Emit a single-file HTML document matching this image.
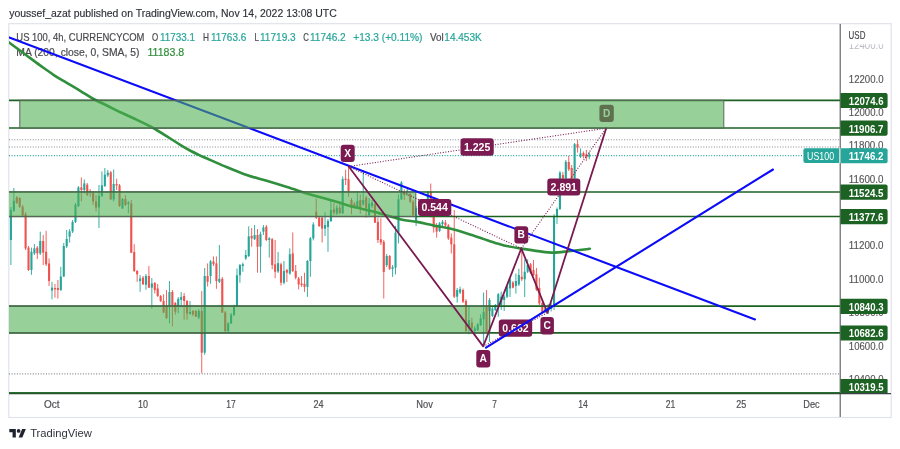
<!DOCTYPE html>
<html lang="en">
<head>
<meta charset="utf-8">
<title>US 100 chart</title>
<style>
html,body{margin:0;padding:0;background:#fff;}
body{width:900px;height:449px;overflow:hidden;font-family:"Liberation Sans",sans-serif;}
svg{display:block;}
</style>
</head>
<body>
<svg width="900" height="449" viewBox="0 0 900 449" font-family="'Liberation Sans', sans-serif">
<defs>
<clipPath id="pane"><rect x="9" y="24" width="831" height="369.5"/></clipPath>
<clipPath id="axis"><rect x="840.3" y="24" width="50" height="369.2"/></clipPath>
<clipPath id="c124"><rect x="841" y="44.2" width="50" height="20"/></clipPath>
</defs>
<rect x="0" y="0" width="900" height="449" fill="#ffffff"/>
<text x="9.2" y="17.4" font-size="10" fill="#30323a" stroke="#30323a" stroke-width="0.15" textLength="327.5" lengthAdjust="spacingAndGlyphs">youssef_azat published on TradingView.com, Nov 14, 2022 13:08 UTC</text>
<rect x="8.8" y="23.7" width="882.4" height="393.8" fill="#ffffff" stroke="#e0e3eb" stroke-width="1.2"/>
<text x="16.3" y="40.5" font-size="10.5" fill="#4b4b4f" stroke="#4b4b4f" stroke-width="0.2" textLength="128.20" lengthAdjust="spacingAndGlyphs">US 100, 4h, CURRENCYCOM</text>
<text x="152" y="40.5" font-size="10.5" fill="#4b4b4f" stroke="#4b4b4f" stroke-width="0.2" textLength="6.20" lengthAdjust="spacingAndGlyphs">O</text>
<text x="160" y="40.5" font-size="10.5" fill="#26a69a" stroke="#26a69a" stroke-width="0.2" textLength="35.00" lengthAdjust="spacingAndGlyphs">11733.1</text>
<text x="203" y="40.5" font-size="10.5" fill="#4b4b4f" stroke="#4b4b4f" stroke-width="0.2" textLength="6.00" lengthAdjust="spacingAndGlyphs">H</text>
<text x="211" y="40.5" font-size="10.5" fill="#26a69a" stroke="#26a69a" stroke-width="0.2" textLength="35.25" lengthAdjust="spacingAndGlyphs">11763.6</text>
<text x="254.5" y="40.5" font-size="10.5" fill="#4b4b4f" stroke="#4b4b4f" stroke-width="0.2" textLength="4.50" lengthAdjust="spacingAndGlyphs">L</text>
<text x="260" y="40.5" font-size="10.5" fill="#26a69a" stroke="#26a69a" stroke-width="0.2" textLength="35.75" lengthAdjust="spacingAndGlyphs">11719.3</text>
<text x="303.25" y="40.5" font-size="10.5" fill="#4b4b4f" stroke="#4b4b4f" stroke-width="0.2" textLength="5.60" lengthAdjust="spacingAndGlyphs">C</text>
<text x="310" y="40.5" font-size="10.5" fill="#26a69a" stroke="#26a69a" stroke-width="0.2" textLength="35.75" lengthAdjust="spacingAndGlyphs">11746.2</text>
<text x="353.25" y="40.5" font-size="10.5" fill="#26a69a" stroke="#26a69a" stroke-width="0.2" textLength="69.25" lengthAdjust="spacingAndGlyphs">+13.3 (+0.11%)</text>
<text x="430" y="40.5" font-size="10.5" fill="#4b4b4f" stroke="#4b4b4f" stroke-width="0.2" textLength="13.75" lengthAdjust="spacingAndGlyphs">Vol</text>
<text x="444.3" y="40.5" font-size="10.5" fill="#26a69a" stroke="#26a69a" stroke-width="0.2" textLength="37.40" lengthAdjust="spacingAndGlyphs">14.453K</text>
<text x="16.3" y="55.8" font-size="10.5" fill="#4b4b4f" stroke="#4b4b4f" stroke-width="0.2" textLength="123.20" lengthAdjust="spacingAndGlyphs">MA (200, close, 0, SMA, 5)</text>
<text x="147.5" y="55.8" font-size="10.5" fill="#2f8f3c" stroke="#2f8f3c" stroke-width="0.2" textLength="36.75" lengthAdjust="spacingAndGlyphs">11183.8</text>
<g clip-path="url(#pane)">
<line x1="9" y1="139.7" x2="840" y2="139.7" stroke="#85888f" stroke-width="1.15" stroke-dasharray="1 1.64"/>
<line x1="9" y1="147.0" x2="840" y2="147.0" stroke="#85888f" stroke-width="1.15" stroke-dasharray="1 1.64"/>
<line x1="9" y1="373.8" x2="840" y2="373.8" stroke="#85888f" stroke-width="1.15" stroke-dasharray="1 1.64"/>
<line x1="9" y1="155.6" x2="803" y2="155.6" stroke="#26a69a" stroke-width="1.1" stroke-dasharray="1 1.64"/>
<g id="candles">
<rect x="10.40" y="207.0" width="1" height="58.0" fill="#26a69a" opacity="0.9"/><rect x="9.85" y="210.0" width="2.1" height="30.0" fill="#26a69a"/>
<rect x="13.34" y="188.0" width="1" height="24.0" fill="#26a69a" opacity="0.9"/><rect x="12.79" y="200.8" width="2.1" height="10.0" fill="#26a69a"/>
<rect x="16.27" y="196.0" width="1" height="8.0" fill="#ef5350" opacity="0.9"/><rect x="15.72" y="197.4" width="2.1" height="5.4" fill="#ef5350"/>
<rect x="19.21" y="197.0" width="1" height="11.0" fill="#ef5350" opacity="0.9"/><rect x="18.66" y="198.0" width="2.1" height="8.8" fill="#ef5350"/>
<rect x="22.14" y="205.0" width="1" height="12.0" fill="#ef5350" opacity="0.9"/><rect x="21.59" y="206.8" width="2.1" height="8.7" fill="#ef5350"/>
<rect x="25.08" y="212.0" width="1" height="38.0" fill="#ef5350" opacity="0.9"/><rect x="24.53" y="214.0" width="2.1" height="34.4" fill="#ef5350"/>
<rect x="28.02" y="246.0" width="1" height="25.0" fill="#ef5350" opacity="0.9"/><rect x="27.47" y="247.6" width="2.1" height="22.4" fill="#ef5350"/>
<rect x="30.95" y="247.6" width="1" height="27.2" fill="#26a69a" opacity="0.9"/><rect x="30.40" y="251.7" width="2.1" height="18.3" fill="#26a69a"/>
<rect x="33.89" y="244.0" width="1" height="11.0" fill="#26a69a" opacity="0.9"/><rect x="33.34" y="248.4" width="2.1" height="5.0" fill="#26a69a"/>
<rect x="36.82" y="246.0" width="1" height="13.0" fill="#ef5350" opacity="0.9"/><rect x="36.27" y="247.6" width="2.1" height="5.8" fill="#ef5350"/>
<rect x="39.76" y="231.7" width="1" height="23.3" fill="#26a69a" opacity="0.9"/><rect x="39.21" y="241.0" width="2.1" height="12.4" fill="#26a69a"/>
<rect x="42.70" y="235.0" width="1" height="30.0" fill="#ef5350" opacity="0.9"/><rect x="42.15" y="241.0" width="2.1" height="11.6" fill="#ef5350"/>
<rect x="45.63" y="230.8" width="1" height="35.2" fill="#ef5350" opacity="0.9"/><rect x="45.08" y="251.7" width="2.1" height="12.6" fill="#ef5350"/>
<rect x="48.57" y="258.4" width="1" height="27.6" fill="#ef5350" opacity="0.9"/><rect x="48.02" y="263.5" width="2.1" height="17.5" fill="#ef5350"/>
<rect x="51.50" y="281.8" width="1" height="17.6" fill="#26a69a" opacity="0.9"/><rect x="50.95" y="287.7" width="2.1" height="2.8" fill="#26a69a"/>
<rect x="54.44" y="284.0" width="1" height="13.7" fill="#ef5350" opacity="0.9"/><rect x="53.89" y="288.0" width="2.1" height="1.4" fill="#ef5350"/>
<rect x="57.38" y="280.0" width="1" height="18.6" fill="#ef5350" opacity="0.9"/><rect x="56.83" y="288.0" width="2.1" height="2.0" fill="#ef5350"/>
<rect x="60.31" y="266.8" width="1" height="24.2" fill="#26a69a" opacity="0.9"/><rect x="59.76" y="276.5" width="2.1" height="13.5" fill="#26a69a"/>
<rect x="63.25" y="243.0" width="1" height="34.0" fill="#26a69a" opacity="0.9"/><rect x="62.70" y="246.0" width="2.1" height="30.5" fill="#26a69a"/>
<rect x="66.18" y="230.0" width="1" height="18.0" fill="#26a69a" opacity="0.9"/><rect x="65.63" y="239.0" width="2.1" height="7.4" fill="#26a69a"/>
<rect x="69.12" y="229.0" width="1" height="13.6" fill="#26a69a" opacity="0.9"/><rect x="68.57" y="231.4" width="2.1" height="5.3" fill="#26a69a"/>
<rect x="72.06" y="220.0" width="1" height="13.0" fill="#26a69a" opacity="0.9"/><rect x="71.51" y="222.0" width="2.1" height="9.4" fill="#26a69a"/>
<rect x="74.99" y="203.0" width="1" height="20.0" fill="#26a69a" opacity="0.9"/><rect x="74.44" y="204.8" width="2.1" height="17.2" fill="#26a69a"/>
<rect x="77.93" y="186.0" width="1" height="21.0" fill="#26a69a" opacity="0.9"/><rect x="77.38" y="187.4" width="2.1" height="18.6" fill="#26a69a"/>
<rect x="80.86" y="177.4" width="1" height="24.0" fill="#ef5350" opacity="0.9"/><rect x="80.31" y="187.4" width="2.1" height="2.6" fill="#ef5350"/>
<rect x="83.80" y="179.4" width="1" height="14.0" fill="#26a69a" opacity="0.9"/><rect x="83.25" y="183.4" width="2.1" height="6.6" fill="#26a69a"/>
<rect x="86.74" y="183.0" width="1" height="13.0" fill="#ef5350" opacity="0.9"/><rect x="86.19" y="184.7" width="2.1" height="10.1" fill="#ef5350"/>
<rect x="89.67" y="189.0" width="1" height="8.0" fill="#ef5350" opacity="0.9"/><rect x="89.12" y="191.0" width="2.1" height="1.5" fill="#ef5350"/>
<rect x="92.61" y="191.0" width="1" height="13.8" fill="#ef5350" opacity="0.9"/><rect x="92.06" y="192.8" width="2.1" height="8.6" fill="#ef5350"/>
<rect x="95.54" y="195.0" width="1" height="16.5" fill="#ef5350" opacity="0.9"/><rect x="94.99" y="201.4" width="2.1" height="6.1" fill="#ef5350"/>
<rect x="98.48" y="185.0" width="1" height="43.0" fill="#26a69a" opacity="0.9"/><rect x="97.93" y="196.0" width="2.1" height="11.5" fill="#26a69a"/>
<rect x="101.42" y="171.4" width="1" height="25.6" fill="#26a69a" opacity="0.9"/><rect x="100.87" y="185.4" width="2.1" height="10.6" fill="#26a69a"/>
<rect x="104.35" y="168.0" width="1" height="19.0" fill="#26a69a" opacity="0.9"/><rect x="103.80" y="174.7" width="2.1" height="11.3" fill="#26a69a"/>
<rect x="107.29" y="170.0" width="1" height="7.0" fill="#26a69a" opacity="0.9"/><rect x="106.74" y="172.7" width="2.1" height="2.7" fill="#26a69a"/>
<rect x="110.22" y="171.0" width="1" height="29.0" fill="#ef5350" opacity="0.9"/><rect x="109.67" y="172.3" width="2.1" height="27.1" fill="#ef5350"/>
<rect x="113.16" y="169.4" width="1" height="32.0" fill="#26a69a" opacity="0.9"/><rect x="112.61" y="184.0" width="2.1" height="15.4" fill="#26a69a"/>
<rect x="116.10" y="178.7" width="1" height="11.3" fill="#ef5350" opacity="0.9"/><rect x="115.55" y="184.0" width="2.1" height="1.4" fill="#ef5350"/>
<rect x="119.03" y="184.0" width="1" height="23.0" fill="#ef5350" opacity="0.9"/><rect x="118.48" y="185.4" width="2.1" height="20.6" fill="#ef5350"/>
<rect x="121.97" y="198.0" width="1" height="11.0" fill="#26a69a" opacity="0.9"/><rect x="121.42" y="199.2" width="2.1" height="9.2" fill="#26a69a"/>
<rect x="124.90" y="195.0" width="1" height="11.0" fill="#ef5350" opacity="0.9"/><rect x="124.35" y="199.0" width="2.1" height="6.0" fill="#ef5350"/>
<rect x="127.84" y="201.0" width="1" height="12.4" fill="#26a69a" opacity="0.9"/><rect x="127.29" y="202.5" width="2.1" height="1.5" fill="#26a69a"/>
<rect x="130.78" y="200.0" width="1" height="53.0" fill="#ef5350" opacity="0.9"/><rect x="130.23" y="203.4" width="2.1" height="49.3" fill="#ef5350"/>
<rect x="133.71" y="244.2" width="1" height="27.8" fill="#ef5350" opacity="0.9"/><rect x="133.16" y="252.0" width="2.1" height="19.0" fill="#ef5350"/>
<rect x="136.65" y="270.0" width="1" height="11.8" fill="#ef5350" opacity="0.9"/><rect x="136.10" y="271.0" width="2.1" height="3.3" fill="#ef5350"/>
<rect x="139.58" y="275.0" width="1" height="16.8" fill="#26a69a" opacity="0.9"/><rect x="139.03" y="278.5" width="2.1" height="2.5" fill="#26a69a"/>
<rect x="142.52" y="276.0" width="1" height="9.0" fill="#ef5350" opacity="0.9"/><rect x="141.97" y="277.6" width="2.1" height="6.7" fill="#ef5350"/>
<rect x="145.46" y="274.0" width="1" height="15.8" fill="#26a69a" opacity="0.9"/><rect x="144.91" y="276.0" width="2.1" height="8.8" fill="#26a69a"/>
<rect x="148.39" y="266.0" width="1" height="22.0" fill="#ef5350" opacity="0.9"/><rect x="147.84" y="276.0" width="2.1" height="11.7" fill="#ef5350"/>
<rect x="151.33" y="278.0" width="1" height="30.6" fill="#26a69a" opacity="0.9"/><rect x="150.78" y="283.5" width="2.1" height="4.2" fill="#26a69a"/>
<rect x="154.26" y="282.0" width="1" height="11.5" fill="#ef5350" opacity="0.9"/><rect x="153.71" y="283.0" width="2.1" height="7.0" fill="#ef5350"/>
<rect x="157.20" y="284.0" width="1" height="13.0" fill="#ef5350" opacity="0.9"/><rect x="156.65" y="288.5" width="2.1" height="7.5" fill="#ef5350"/>
<rect x="160.14" y="295.0" width="1" height="7.0" fill="#ef5350" opacity="0.9"/><rect x="159.59" y="296.0" width="2.1" height="5.0" fill="#ef5350"/>
<rect x="163.07" y="294.3" width="1" height="18.7" fill="#ef5350" opacity="0.9"/><rect x="162.52" y="301.0" width="2.1" height="11.5" fill="#ef5350"/>
<rect x="166.01" y="290.0" width="1" height="29.0" fill="#ef5350" opacity="0.9"/><rect x="165.46" y="306.0" width="2.1" height="12.0" fill="#ef5350"/>
<rect x="168.94" y="281.0" width="1" height="42.4" fill="#26a69a" opacity="0.9"/><rect x="168.39" y="292.0" width="2.1" height="13.6" fill="#26a69a"/>
<rect x="171.88" y="290.0" width="1" height="36.4" fill="#ef5350" opacity="0.9"/><rect x="171.33" y="292.0" width="2.1" height="13.0" fill="#ef5350"/>
<rect x="174.82" y="302.0" width="1" height="12.7" fill="#ef5350" opacity="0.9"/><rect x="174.27" y="303.0" width="2.1" height="8.7" fill="#ef5350"/>
<rect x="177.75" y="297.0" width="1" height="16.4" fill="#26a69a" opacity="0.9"/><rect x="177.20" y="298.9" width="2.1" height="6.7" fill="#26a69a"/>
<rect x="180.69" y="292.0" width="1" height="13.6" fill="#26a69a" opacity="0.9"/><rect x="180.14" y="296.9" width="2.1" height="3.0" fill="#26a69a"/>
<rect x="183.62" y="293.0" width="1" height="26.7" fill="#ef5350" opacity="0.9"/><rect x="183.07" y="296.0" width="2.1" height="5.0" fill="#ef5350"/>
<rect x="186.56" y="300.0" width="1" height="19.7" fill="#ef5350" opacity="0.9"/><rect x="186.01" y="301.0" width="2.1" height="12.6" fill="#ef5350"/>
<rect x="189.50" y="301.0" width="1" height="13.7" fill="#26a69a" opacity="0.9"/><rect x="188.95" y="312.0" width="2.1" height="1.7" fill="#26a69a"/>
<rect x="192.43" y="310.0" width="1" height="6.0" fill="#ef5350" opacity="0.9"/><rect x="191.88" y="311.0" width="2.1" height="3.4" fill="#ef5350"/>
<rect x="195.37" y="310.0" width="1" height="7.0" fill="#ef5350" opacity="0.9"/><rect x="194.82" y="311.0" width="2.1" height="5.7" fill="#ef5350"/>
<rect x="198.30" y="309.0" width="1" height="10.2" fill="#26a69a" opacity="0.9"/><rect x="197.75" y="311.0" width="2.1" height="6.5" fill="#26a69a"/>
<rect x="201.24" y="291.0" width="1" height="82.2" fill="#ef5350" opacity="0.9"/><rect x="200.69" y="311.0" width="2.1" height="41.7" fill="#ef5350"/>
<rect x="204.18" y="268.0" width="1" height="86.8" fill="#26a69a" opacity="0.9"/><rect x="203.63" y="276.0" width="2.1" height="76.7" fill="#26a69a"/>
<rect x="207.11" y="263.4" width="1" height="23.1" fill="#ef5350" opacity="0.9"/><rect x="206.56" y="276.0" width="2.1" height="5.8" fill="#ef5350"/>
<rect x="210.05" y="260.0" width="1" height="23.8" fill="#26a69a" opacity="0.9"/><rect x="209.50" y="261.4" width="2.1" height="14.6" fill="#26a69a"/>
<rect x="212.98" y="256.4" width="1" height="9.6" fill="#ef5350" opacity="0.9"/><rect x="212.43" y="261.4" width="2.1" height="2.8" fill="#ef5350"/>
<rect x="215.92" y="256.4" width="1" height="32.4" fill="#ef5350" opacity="0.9"/><rect x="215.37" y="263.4" width="2.1" height="17.6" fill="#ef5350"/>
<rect x="218.86" y="245.0" width="1" height="38.0" fill="#26a69a" opacity="0.9"/><rect x="218.31" y="278.8" width="2.1" height="3.0" fill="#26a69a"/>
<rect x="221.79" y="277.0" width="1" height="36.0" fill="#ef5350" opacity="0.9"/><rect x="221.24" y="278.8" width="2.1" height="33.7" fill="#ef5350"/>
<rect x="224.73" y="311.0" width="1" height="21.0" fill="#ef5350" opacity="0.9"/><rect x="224.18" y="312.5" width="2.1" height="18.5" fill="#ef5350"/>
<rect x="227.66" y="322.0" width="1" height="10.0" fill="#26a69a" opacity="0.9"/><rect x="227.11" y="323.4" width="2.1" height="7.6" fill="#26a69a"/>
<rect x="230.60" y="313.0" width="1" height="11.0" fill="#26a69a" opacity="0.9"/><rect x="230.05" y="314.7" width="2.1" height="8.7" fill="#26a69a"/>
<rect x="233.54" y="304.7" width="1" height="11.3" fill="#26a69a" opacity="0.9"/><rect x="232.99" y="306.4" width="2.1" height="8.6" fill="#26a69a"/>
<rect x="236.47" y="268.5" width="1" height="38.5" fill="#26a69a" opacity="0.9"/><rect x="235.92" y="275.2" width="2.1" height="31.2" fill="#26a69a"/>
<rect x="239.41" y="264.0" width="1" height="18.7" fill="#26a69a" opacity="0.9"/><rect x="238.86" y="265.0" width="2.1" height="10.2" fill="#26a69a"/>
<rect x="242.34" y="262.6" width="1" height="9.2" fill="#26a69a" opacity="0.9"/><rect x="241.79" y="264.3" width="2.1" height="1.7" fill="#26a69a"/>
<rect x="245.28" y="250.0" width="1" height="10.0" fill="#26a69a" opacity="0.9"/><rect x="244.73" y="255.0" width="2.1" height="3.4" fill="#26a69a"/>
<rect x="248.22" y="226.3" width="1" height="30.7" fill="#26a69a" opacity="0.9"/><rect x="247.67" y="236.4" width="2.1" height="19.6" fill="#26a69a"/>
<rect x="251.15" y="228.0" width="1" height="18.7" fill="#ef5350" opacity="0.9"/><rect x="250.60" y="236.0" width="2.1" height="2.4" fill="#ef5350"/>
<rect x="254.09" y="225.0" width="1" height="15.0" fill="#26a69a" opacity="0.9"/><rect x="253.54" y="235.0" width="2.1" height="4.2" fill="#26a69a"/>
<rect x="257.02" y="229.0" width="1" height="43.7" fill="#ef5350" opacity="0.9"/><rect x="256.47" y="235.0" width="2.1" height="11.7" fill="#ef5350"/>
<rect x="259.96" y="231.7" width="1" height="41.0" fill="#26a69a" opacity="0.9"/><rect x="259.41" y="234.2" width="2.1" height="12.5" fill="#26a69a"/>
<rect x="262.90" y="225.0" width="1" height="10.0" fill="#26a69a" opacity="0.9"/><rect x="262.35" y="227.5" width="2.1" height="4.2" fill="#26a69a"/>
<rect x="265.83" y="225.0" width="1" height="16.0" fill="#ef5350" opacity="0.9"/><rect x="265.28" y="226.7" width="2.1" height="13.3" fill="#ef5350"/>
<rect x="268.77" y="237.0" width="1" height="20.6" fill="#26a69a" opacity="0.9"/><rect x="268.22" y="238.4" width="2.1" height="1.6" fill="#26a69a"/>
<rect x="271.70" y="238.0" width="1" height="31.3" fill="#ef5350" opacity="0.9"/><rect x="271.15" y="239.2" width="2.1" height="25.9" fill="#ef5350"/>
<rect x="274.64" y="240.0" width="1" height="38.2" fill="#ef5350" opacity="0.9"/><rect x="274.09" y="264.3" width="2.1" height="7.5" fill="#ef5350"/>
<rect x="277.58" y="252.0" width="1" height="21.0" fill="#26a69a" opacity="0.9"/><rect x="277.03" y="263.1" width="2.1" height="8.4" fill="#26a69a"/>
<rect x="280.51" y="262.6" width="1" height="22.9" fill="#ef5350" opacity="0.9"/><rect x="279.96" y="264.3" width="2.1" height="18.4" fill="#ef5350"/>
<rect x="283.45" y="261.0" width="1" height="23.4" fill="#26a69a" opacity="0.9"/><rect x="282.90" y="271.0" width="2.1" height="11.7" fill="#26a69a"/>
<rect x="286.38" y="268.8" width="1" height="13.1" fill="#ef5350" opacity="0.9"/><rect x="285.83" y="270.0" width="2.1" height="2.7" fill="#ef5350"/>
<rect x="289.32" y="248.4" width="1" height="26.4" fill="#26a69a" opacity="0.9"/><rect x="288.77" y="254.3" width="2.1" height="19.2" fill="#26a69a"/>
<rect x="292.26" y="232.5" width="1" height="39.5" fill="#ef5350" opacity="0.9"/><rect x="291.71" y="253.4" width="2.1" height="17.6" fill="#ef5350"/>
<rect x="295.19" y="265.0" width="1" height="14.3" fill="#ef5350" opacity="0.9"/><rect x="294.64" y="271.0" width="2.1" height="6.7" fill="#ef5350"/>
<rect x="298.13" y="277.0" width="1" height="12.4" fill="#ef5350" opacity="0.9"/><rect x="297.58" y="278.5" width="2.1" height="5.9" fill="#ef5350"/>
<rect x="301.06" y="276.0" width="1" height="10.9" fill="#ef5350" opacity="0.9"/><rect x="300.51" y="283.5" width="2.1" height="1.5" fill="#ef5350"/>
<rect x="304.00" y="272.7" width="1" height="19.2" fill="#ef5350" opacity="0.9"/><rect x="303.45" y="283.9" width="2.1" height="3.0" fill="#ef5350"/>
<rect x="306.94" y="260.0" width="1" height="36.9" fill="#26a69a" opacity="0.9"/><rect x="306.39" y="261.0" width="2.1" height="25.9" fill="#26a69a"/>
<rect x="309.87" y="237.0" width="1" height="39.8" fill="#26a69a" opacity="0.9"/><rect x="309.32" y="238.4" width="2.1" height="22.6" fill="#26a69a"/>
<rect x="312.81" y="222.2" width="1" height="18.2" fill="#26a69a" opacity="0.9"/><rect x="312.26" y="224.4" width="2.1" height="14.0" fill="#26a69a"/>
<rect x="315.74" y="198.5" width="1" height="20.5" fill="#ef5350" opacity="0.9"/><rect x="315.19" y="211.8" width="2.1" height="5.9" fill="#ef5350"/>
<rect x="318.68" y="216.0" width="1" height="11.0" fill="#ef5350" opacity="0.9"/><rect x="318.13" y="217.7" width="2.1" height="8.3" fill="#ef5350"/>
<rect x="321.62" y="216.0" width="1" height="26.5" fill="#ef5350" opacity="0.9"/><rect x="321.07" y="217.7" width="2.1" height="10.9" fill="#ef5350"/>
<rect x="324.55" y="212.0" width="1" height="24.0" fill="#26a69a" opacity="0.9"/><rect x="324.00" y="225.0" width="2.1" height="3.6" fill="#26a69a"/>
<rect x="327.49" y="219.0" width="1" height="32.8" fill="#26a69a" opacity="0.9"/><rect x="326.94" y="221.0" width="2.1" height="6.0" fill="#26a69a"/>
<rect x="330.42" y="201.0" width="1" height="21.0" fill="#26a69a" opacity="0.9"/><rect x="329.87" y="210.0" width="2.1" height="11.0" fill="#26a69a"/>
<rect x="333.36" y="203.0" width="1" height="12.2" fill="#ef5350" opacity="0.9"/><rect x="332.81" y="209.3" width="2.1" height="3.4" fill="#ef5350"/>
<rect x="336.30" y="204.8" width="1" height="10.2" fill="#26a69a" opacity="0.9"/><rect x="335.75" y="207.7" width="2.1" height="5.8" fill="#26a69a"/>
<rect x="339.23" y="201.8" width="1" height="12.2" fill="#ef5350" opacity="0.9"/><rect x="338.68" y="207.7" width="2.1" height="5.5" fill="#ef5350"/>
<rect x="342.17" y="176.4" width="1" height="37.6" fill="#26a69a" opacity="0.9"/><rect x="341.62" y="179.2" width="2.1" height="34.0" fill="#26a69a"/>
<rect x="345.10" y="169.7" width="1" height="15.3" fill="#ef5350" opacity="0.9"/><rect x="344.55" y="178.7" width="2.1" height="1.3" fill="#ef5350"/>
<rect x="348.04" y="166.7" width="1" height="30.1" fill="#ef5350" opacity="0.9"/><rect x="347.49" y="179.2" width="2.1" height="11.8" fill="#ef5350"/>
<rect x="350.98" y="198.0" width="1" height="16.3" fill="#ef5350" opacity="0.9"/><rect x="350.43" y="200.0" width="2.1" height="7.7" fill="#ef5350"/>
<rect x="353.91" y="202.0" width="1" height="6.0" fill="#ef5350" opacity="0.9"/><rect x="353.36" y="203.8" width="2.1" height="3.0" fill="#ef5350"/>
<rect x="356.85" y="192.6" width="1" height="15.4" fill="#26a69a" opacity="0.9"/><rect x="356.30" y="201.0" width="2.1" height="5.8" fill="#26a69a"/>
<rect x="359.78" y="194.3" width="1" height="19.5" fill="#ef5350" opacity="0.9"/><rect x="359.23" y="200.0" width="2.1" height="7.7" fill="#ef5350"/>
<rect x="362.72" y="170.0" width="1" height="36.0" fill="#26a69a" opacity="0.9"/><rect x="362.17" y="200.0" width="2.1" height="4.3" fill="#26a69a"/>
<rect x="365.66" y="196.0" width="1" height="21.7" fill="#ef5350" opacity="0.9"/><rect x="365.11" y="197.6" width="2.1" height="10.9" fill="#ef5350"/>
<rect x="368.59" y="198.0" width="1" height="18.0" fill="#26a69a" opacity="0.9"/><rect x="368.04" y="203.5" width="2.1" height="11.7" fill="#26a69a"/>
<rect x="371.53" y="200.0" width="1" height="8.0" fill="#26a69a" opacity="0.9"/><rect x="370.98" y="202.6" width="2.1" height="3.4" fill="#26a69a"/>
<rect x="374.46" y="203.0" width="1" height="20.0" fill="#ef5350" opacity="0.9"/><rect x="373.91" y="204.3" width="2.1" height="18.4" fill="#ef5350"/>
<rect x="377.40" y="217.7" width="1" height="25.3" fill="#ef5350" opacity="0.9"/><rect x="376.85" y="221.9" width="2.1" height="18.1" fill="#ef5350"/>
<rect x="380.34" y="218.3" width="1" height="26.7" fill="#ef5350" opacity="0.9"/><rect x="379.79" y="239.2" width="2.1" height="3.4" fill="#ef5350"/>
<rect x="383.27" y="240.0" width="1" height="58.5" fill="#ef5350" opacity="0.9"/><rect x="382.72" y="241.8" width="2.1" height="30.1" fill="#ef5350"/>
<rect x="386.21" y="254.0" width="1" height="13.0" fill="#26a69a" opacity="0.9"/><rect x="385.66" y="256.0" width="2.1" height="9.2" fill="#26a69a"/>
<rect x="389.14" y="255.0" width="1" height="15.0" fill="#ef5350" opacity="0.9"/><rect x="388.59" y="256.0" width="2.1" height="12.8" fill="#ef5350"/>
<rect x="392.08" y="265.0" width="1" height="11.9" fill="#26a69a" opacity="0.9"/><rect x="391.53" y="267.2" width="2.1" height="1.6" fill="#26a69a"/>
<rect x="395.02" y="225.9" width="1" height="48.5" fill="#26a69a" opacity="0.9"/><rect x="394.47" y="232.6" width="2.1" height="35.1" fill="#26a69a"/>
<rect x="397.95" y="194.3" width="1" height="49.1" fill="#26a69a" opacity="0.9"/><rect x="397.40" y="199.3" width="2.1" height="33.3" fill="#26a69a"/>
<rect x="400.89" y="181.0" width="1" height="19.0" fill="#26a69a" opacity="0.9"/><rect x="400.34" y="182.5" width="2.1" height="16.8" fill="#26a69a"/>
<rect x="403.82" y="189.3" width="1" height="10.7" fill="#ef5350" opacity="0.9"/><rect x="403.27" y="192.6" width="2.1" height="2.4" fill="#ef5350"/>
<rect x="406.76" y="189.0" width="1" height="7.0" fill="#26a69a" opacity="0.9"/><rect x="406.21" y="190.6" width="2.1" height="2.4" fill="#26a69a"/>
<rect x="409.70" y="193.0" width="1" height="10.0" fill="#ef5350" opacity="0.9"/><rect x="409.15" y="194.3" width="2.1" height="7.5" fill="#ef5350"/>
<rect x="412.63" y="200.0" width="1" height="16.0" fill="#ef5350" opacity="0.9"/><rect x="412.08" y="201.8" width="2.1" height="13.2" fill="#ef5350"/>
<rect x="415.57" y="206.0" width="1" height="20.0" fill="#26a69a" opacity="0.9"/><rect x="415.02" y="208.0" width="2.1" height="14.0" fill="#26a69a"/>
<rect x="418.50" y="202.0" width="1" height="9.0" fill="#ef5350" opacity="0.9"/><rect x="417.95" y="204.0" width="2.1" height="5.0" fill="#ef5350"/>
<rect x="421.44" y="201.0" width="1" height="9.0" fill="#26a69a" opacity="0.9"/><rect x="420.89" y="203.0" width="2.1" height="5.0" fill="#26a69a"/>
<rect x="424.38" y="201.0" width="1" height="8.0" fill="#ef5350" opacity="0.9"/><rect x="423.83" y="203.0" width="2.1" height="4.0" fill="#ef5350"/>
<rect x="427.31" y="191.0" width="1" height="13.0" fill="#26a69a" opacity="0.9"/><rect x="426.76" y="192.4" width="2.1" height="10.6" fill="#26a69a"/>
<rect x="430.25" y="183.5" width="1" height="34.0" fill="#ef5350" opacity="0.9"/><rect x="429.70" y="192.4" width="2.1" height="23.6" fill="#ef5350"/>
<rect x="433.18" y="215.0" width="1" height="17.6" fill="#ef5350" opacity="0.9"/><rect x="432.63" y="216.7" width="2.1" height="10.8" fill="#ef5350"/>
<rect x="436.12" y="223.0" width="1" height="14.6" fill="#ef5350" opacity="0.9"/><rect x="435.57" y="226.7" width="2.1" height="5.0" fill="#ef5350"/>
<rect x="439.06" y="222.0" width="1" height="10.0" fill="#26a69a" opacity="0.9"/><rect x="438.51" y="223.4" width="2.1" height="7.5" fill="#26a69a"/>
<rect x="441.99" y="220.0" width="1" height="6.0" fill="#26a69a" opacity="0.9"/><rect x="441.44" y="221.7" width="2.1" height="2.5" fill="#26a69a"/>
<rect x="444.93" y="220.0" width="1" height="8.4" fill="#ef5350" opacity="0.9"/><rect x="444.38" y="222.5" width="2.1" height="2.9" fill="#ef5350"/>
<rect x="447.86" y="224.0" width="1" height="16.0" fill="#ef5350" opacity="0.9"/><rect x="447.31" y="225.4" width="2.1" height="13.0" fill="#ef5350"/>
<rect x="450.80" y="233.4" width="1" height="20.1" fill="#ef5350" opacity="0.9"/><rect x="450.25" y="237.6" width="2.1" height="6.7" fill="#ef5350"/>
<rect x="453.74" y="210.0" width="1" height="88.0" fill="#ef5350" opacity="0.9"/><rect x="453.19" y="244.3" width="2.1" height="52.4" fill="#ef5350"/>
<rect x="456.67" y="288.0" width="1" height="14.6" fill="#26a69a" opacity="0.9"/><rect x="456.12" y="290.0" width="2.1" height="6.7" fill="#26a69a"/>
<rect x="459.61" y="286.7" width="1" height="7.3" fill="#26a69a" opacity="0.9"/><rect x="459.06" y="289.2" width="2.1" height="3.3" fill="#26a69a"/>
<rect x="462.54" y="288.5" width="1" height="14.5" fill="#ef5350" opacity="0.9"/><rect x="461.99" y="290.0" width="2.1" height="11.7" fill="#ef5350"/>
<rect x="465.48" y="299.2" width="1" height="32.8" fill="#ef5350" opacity="0.9"/><rect x="464.93" y="300.9" width="2.1" height="30.1" fill="#ef5350"/>
<rect x="468.42" y="306.8" width="1" height="27.5" fill="#26a69a" opacity="0.9"/><rect x="467.87" y="320.0" width="2.1" height="8.0" fill="#26a69a"/>
<rect x="471.35" y="317.6" width="1" height="12.4" fill="#ef5350" opacity="0.9"/><rect x="470.80" y="322.6" width="2.1" height="5.9" fill="#ef5350"/>
<rect x="474.29" y="326.0" width="1" height="10.0" fill="#26a69a" opacity="0.9"/><rect x="473.74" y="328.5" width="2.1" height="2.5" fill="#26a69a"/>
<rect x="477.22" y="323.0" width="1" height="8.0" fill="#26a69a" opacity="0.9"/><rect x="476.67" y="324.3" width="2.1" height="5.9" fill="#26a69a"/>
<rect x="480.16" y="314.3" width="1" height="11.7" fill="#26a69a" opacity="0.9"/><rect x="479.61" y="318.5" width="2.1" height="6.7" fill="#26a69a"/>
<rect x="483.10" y="292.5" width="1" height="52.7" fill="#26a69a" opacity="0.9"/><rect x="482.55" y="311.8" width="2.1" height="7.5" fill="#26a69a"/>
<rect x="486.03" y="290.0" width="1" height="43.0" fill="#ef5350" opacity="0.9"/><rect x="485.48" y="306.0" width="2.1" height="25.8" fill="#ef5350"/>
<rect x="488.97" y="298.0" width="1" height="43.9" fill="#26a69a" opacity="0.9"/><rect x="488.42" y="300.0" width="2.1" height="11.0" fill="#26a69a"/>
<rect x="491.90" y="307.0" width="1" height="10.0" fill="#26a69a" opacity="0.9"/><rect x="491.35" y="308.4" width="2.1" height="7.6" fill="#26a69a"/>
<rect x="494.84" y="304.0" width="1" height="7.0" fill="#26a69a" opacity="0.9"/><rect x="494.29" y="305.0" width="2.1" height="5.0" fill="#26a69a"/>
<rect x="497.78" y="293.0" width="1" height="23.8" fill="#26a69a" opacity="0.9"/><rect x="497.23" y="294.2" width="2.1" height="12.6" fill="#26a69a"/>
<rect x="500.71" y="291.7" width="1" height="18.3" fill="#26a69a" opacity="0.9"/><rect x="500.16" y="296.7" width="2.1" height="8.3" fill="#26a69a"/>
<rect x="503.65" y="295.0" width="1" height="16.0" fill="#26a69a" opacity="0.9"/><rect x="503.10" y="296.7" width="2.1" height="3.3" fill="#26a69a"/>
<rect x="506.58" y="285.0" width="1" height="13.0" fill="#26a69a" opacity="0.9"/><rect x="506.03" y="286.7" width="2.1" height="10.0" fill="#26a69a"/>
<rect x="509.52" y="278.0" width="1" height="19.0" fill="#26a69a" opacity="0.9"/><rect x="508.97" y="279.3" width="2.1" height="9.1" fill="#26a69a"/>
<rect x="512.46" y="281.0" width="1" height="7.4" fill="#ef5350" opacity="0.9"/><rect x="511.91" y="282.5" width="2.1" height="5.2" fill="#ef5350"/>
<rect x="515.39" y="273.5" width="1" height="20.1" fill="#26a69a" opacity="0.9"/><rect x="514.84" y="281.0" width="2.1" height="5.0" fill="#26a69a"/>
<rect x="518.33" y="268.8" width="1" height="17.2" fill="#26a69a" opacity="0.9"/><rect x="517.78" y="275.0" width="2.1" height="9.4" fill="#26a69a"/>
<rect x="521.26" y="250.0" width="1" height="31.0" fill="#ef5350" opacity="0.9"/><rect x="520.71" y="276.8" width="2.1" height="2.5" fill="#ef5350"/>
<rect x="524.20" y="259.3" width="1" height="37.7" fill="#26a69a" opacity="0.9"/><rect x="523.65" y="271.8" width="2.1" height="7.5" fill="#26a69a"/>
<rect x="527.14" y="259.3" width="1" height="13.7" fill="#26a69a" opacity="0.9"/><rect x="526.59" y="265.0" width="2.1" height="6.8" fill="#26a69a"/>
<rect x="530.07" y="263.0" width="1" height="11.0" fill="#ef5350" opacity="0.9"/><rect x="529.52" y="264.3" width="2.1" height="8.4" fill="#ef5350"/>
<rect x="533.01" y="260.0" width="1" height="16.0" fill="#ef5350" opacity="0.9"/><rect x="532.46" y="270.0" width="2.1" height="5.0" fill="#ef5350"/>
<rect x="535.94" y="268.0" width="1" height="23.0" fill="#ef5350" opacity="0.9"/><rect x="535.39" y="274.3" width="2.1" height="15.1" fill="#ef5350"/>
<rect x="538.88" y="277.7" width="1" height="27.3" fill="#ef5350" opacity="0.9"/><rect x="538.33" y="288.0" width="2.1" height="15.4" fill="#ef5350"/>
<rect x="541.82" y="301.0" width="1" height="12.5" fill="#ef5350" opacity="0.9"/><rect x="541.27" y="303.0" width="2.1" height="9.6" fill="#ef5350"/>
<rect x="544.75" y="306.5" width="1" height="6.5" fill="#26a69a" opacity="0.9"/><rect x="544.20" y="308.4" width="2.1" height="2.6" fill="#26a69a"/>
<rect x="547.69" y="304.0" width="1" height="10.0" fill="#26a69a" opacity="0.9"/><rect x="547.14" y="306.0" width="2.1" height="4.0" fill="#26a69a"/>
<rect x="550.62" y="303.0" width="1" height="8.5" fill="#26a69a" opacity="0.9"/><rect x="550.07" y="305.0" width="2.1" height="4.0" fill="#26a69a"/>
<rect x="553.56" y="214.0" width="1" height="96.0" fill="#26a69a" opacity="0.9"/><rect x="553.01" y="216.0" width="2.1" height="89.0" fill="#26a69a"/>
<rect x="556.50" y="207.5" width="1" height="16.5" fill="#26a69a" opacity="0.9"/><rect x="555.95" y="209.0" width="2.1" height="7.0" fill="#26a69a"/>
<rect x="559.43" y="171.0" width="1" height="39.0" fill="#26a69a" opacity="0.9"/><rect x="558.88" y="172.7" width="2.1" height="36.3" fill="#26a69a"/>
<rect x="562.37" y="172.0" width="1" height="8.0" fill="#ef5350" opacity="0.9"/><rect x="561.82" y="175.0" width="2.1" height="3.5" fill="#ef5350"/>
<rect x="565.30" y="160.0" width="1" height="19.5" fill="#26a69a" opacity="0.9"/><rect x="564.75" y="161.8" width="2.1" height="16.7" fill="#26a69a"/>
<rect x="568.24" y="156.0" width="1" height="15.0" fill="#ef5350" opacity="0.9"/><rect x="567.69" y="162.0" width="2.1" height="7.3" fill="#ef5350"/>
<rect x="571.18" y="165.0" width="1" height="14.5" fill="#ef5350" opacity="0.9"/><rect x="570.63" y="168.0" width="2.1" height="10.5" fill="#ef5350"/>
<rect x="574.11" y="143.0" width="1" height="36.5" fill="#26a69a" opacity="0.9"/><rect x="573.56" y="144.2" width="2.1" height="34.3" fill="#26a69a"/>
<rect x="577.05" y="139.7" width="1" height="12.9" fill="#ef5350" opacity="0.9"/><rect x="576.50" y="144.2" width="2.1" height="3.4" fill="#ef5350"/>
<rect x="579.98" y="148.4" width="1" height="9.6" fill="#26a69a" opacity="0.9"/><rect x="579.43" y="153.4" width="2.1" height="3.4" fill="#26a69a"/>
<rect x="582.92" y="151.4" width="1" height="7.0" fill="#ef5350" opacity="0.9"/><rect x="582.37" y="153.0" width="2.1" height="3.0" fill="#ef5350"/>
<rect x="585.86" y="150.0" width="1" height="11.0" fill="#ef5350" opacity="0.9"/><rect x="585.31" y="154.3" width="2.1" height="3.3" fill="#ef5350"/>
<rect x="588.79" y="151.7" width="1" height="7.6" fill="#26a69a" opacity="0.9"/><rect x="588.24" y="154.3" width="2.1" height="2.5" fill="#26a69a"/>
</g>
<path d="M6,40.2 C6.6,40.6 6.0,40.2 9.4,42.7 C12.8,45.2 21.6,51.7 26.7,55.5 C31.8,59.3 35.6,62.2 40.1,65.4 C44.6,68.6 49.0,71.9 53.4,74.8 C57.8,77.7 62.3,80.1 66.8,82.8 C71.3,85.5 75.8,88.1 80.2,90.8 C84.7,93.5 89.0,96.5 93.5,99 C98.0,101.5 102.4,103.3 106.9,105.5 C111.4,107.7 115.8,110.1 120.3,112.2 C124.8,114.3 128.3,115.8 133.6,118.3 C138.9,120.8 146.3,124.2 152.3,127.5 C158.3,130.8 164.8,135.1 169.5,138 C174.2,140.9 176.6,142.6 180.2,144.8 C183.8,147.0 187.3,149.1 190.9,151 C194.5,152.9 198.0,154.5 201.6,156.2 C205.2,157.8 208.7,159.3 212.3,160.9 C215.9,162.5 217.7,163.4 223,165.6 C228.3,167.8 237.3,171.7 244.4,174.2 C251.5,176.7 258.7,178.5 265.8,180.6 C272.9,182.7 279.9,184.8 287,187 C294.1,189.2 302.3,192.1 308.6,194 C314.9,195.9 319.8,197.0 325,198.5 C330.2,200.0 335.8,201.6 340,202.8 C344.2,204.1 344.2,204.5 350,206 C355.8,207.5 366.7,209.8 375,212 C383.3,214.2 393.0,217.5 400,219.2 C407.0,220.8 411.3,220.9 416.9,221.9 C422.5,222.9 428.1,224.3 433.6,225.4 C439.1,226.5 443.9,227.1 450,228.6 C456.1,230.1 463.3,232.3 470,234.4 C476.7,236.5 485.0,239.5 490,241.2 C495.0,242.8 497.2,243.5 500,244.3 C502.8,245.1 503.1,245.3 506.7,246 C510.2,246.7 515.8,247.7 521.3,248.6 C526.8,249.5 534.6,250.7 540,251.4 C545.4,252.1 548.7,252.6 553.5,252.6 C558.3,252.6 563.9,251.7 568.6,251.2 C573.4,250.7 578.5,250.1 582,249.7 C585.5,249.3 588.5,248.9 589.8,248.7" fill="none" stroke="#2f8f3c" stroke-width="2.6" stroke-linecap="round" stroke-linejoin="round"/>
<line x1="9" y1="100.3" x2="840" y2="100.3" stroke="#1c6222" stroke-width="1.7"/>
<line x1="9" y1="128.0" x2="840" y2="128.0" stroke="#1c6222" stroke-width="1.7"/>
<line x1="9" y1="192.0" x2="840" y2="192.0" stroke="#1c6222" stroke-width="1.7"/>
<line x1="9" y1="216.5" x2="840" y2="216.5" stroke="#1c6222" stroke-width="1.7"/>
<line x1="9" y1="306.2" x2="840" y2="306.2" stroke="#1c6222" stroke-width="1.7"/>
<line x1="9" y1="332.8" x2="840" y2="332.8" stroke="#1c6222" stroke-width="1.7"/>
<line x1="9" y1="393.0" x2="840" y2="393.0" stroke="#1c6222" stroke-width="1.7"/>
<rect x="-5" y="192.0" width="420.8" height="24.5" fill="rgba(76,175,80,0.58)" stroke="#59665b" stroke-width="1"/>
<rect x="-5" y="306.2" width="494.8" height="26.600000000000023" fill="rgba(76,175,80,0.58)" stroke="#59665b" stroke-width="1"/>
<line x1="5" y1="35.8" x2="755" y2="319.4" stroke="#0c0cf8" stroke-width="2.1" stroke-linecap="round"/>
<line x1="348.75" y1="166.5" x2="521.3" y2="248.5" stroke="#7a1a50" stroke-width="1.1" stroke-dasharray="1 1.64"/>
<line x1="521.3" y1="248.5" x2="606.2" y2="128.2" stroke="#7a1a50" stroke-width="1.1" stroke-dasharray="1 1.64"/>
<line x1="348.75" y1="166.5" x2="606.2" y2="128.2" stroke="#7a1a50" stroke-width="1.1" stroke-dasharray="1 1.64"/>
<line x1="483.2" y1="346.4" x2="547.4" y2="312.7" stroke="#7a1a50" stroke-width="1.1" stroke-dasharray="1 1.64"/>
<polyline points="348.75,166.5 483.2,346.4 521.3,248.5 547.4,312.7 606.2,128.2" fill="none" stroke="#7a1a50" stroke-width="1.8" stroke-linejoin="round" stroke-linecap="round"/>
<rect x="340.7" y="144.7" width="14.00" height="17.30" rx="3" fill="#7a1a50"/>
<text x="347.70" y="156.95" font-size="10.2" font-weight="bold" fill="#ffffff" text-anchor="middle">X</text>
<rect x="476.3" y="349.9" width="14.00" height="17.70" rx="3" fill="#7a1a50"/>
<text x="483.30" y="362.35" font-size="10.2" font-weight="bold" fill="#ffffff" text-anchor="middle">A</text>
<rect x="514.4" y="226.2" width="13.80" height="17.30" rx="3" fill="#7a1a50"/>
<text x="521.30" y="238.45" font-size="10.2" font-weight="bold" fill="#ffffff" text-anchor="middle">B</text>
<rect x="540.4" y="317.1" width="13.50" height="17.30" rx="3" fill="#7a1a50"/>
<text x="547.15" y="329.35" font-size="10.2" font-weight="bold" fill="#ffffff" text-anchor="middle">C</text>
<rect x="599.4" y="104.8" width="14.40" height="17.30" rx="3" fill="#7a1a50"/>
<text x="606.60" y="117.05" font-size="10.2" font-weight="bold" fill="#ffffff" text-anchor="middle">D</text>
<rect x="418" y="199" width="33.30" height="17.00" rx="3" fill="#7a1a50"/>
<text x="434.65" y="211.10" font-size="10.2" font-weight="bold" fill="#ffffff" text-anchor="middle" textLength="26.4" lengthAdjust="spacingAndGlyphs">0.544</text>
<rect x="460.5" y="138.25" width="33.25" height="17.50" rx="3" fill="#7a1a50"/>
<text x="477.12" y="150.60" font-size="10.2" font-weight="bold" fill="#ffffff" text-anchor="middle" textLength="26.4" lengthAdjust="spacingAndGlyphs">1.225</text>
<rect x="547.3" y="178.4" width="33.00" height="17.10" rx="3" fill="#7a1a50"/>
<text x="563.80" y="190.55" font-size="10.2" font-weight="bold" fill="#ffffff" text-anchor="middle" textLength="26.4" lengthAdjust="spacingAndGlyphs">2.891</text>
<rect x="498.8" y="319.5" width="33.40" height="17.30" rx="3" fill="#7a1a50"/>
<text x="515.50" y="331.75" font-size="10.2" font-weight="bold" fill="#ffffff" text-anchor="middle" textLength="26.4" lengthAdjust="spacingAndGlyphs">0.662</text>
<line x1="486" y1="347.7" x2="773" y2="169.5" stroke="#0c0cf8" stroke-width="2.1" stroke-linecap="round"/>
<rect x="19.8" y="100.3" width="704.0" height="27.700000000000003" fill="rgba(76,175,80,0.58)" stroke="#59665b" stroke-width="1"/>
</g>
<line x1="840.2" y1="24" x2="840.2" y2="417" stroke="#56585e" stroke-width="1.1"/>
<line x1="9" y1="393.6" x2="891" y2="393.6" stroke="#3c3f48" stroke-width="1.3"/>
<line x1="9" y1="393" x2="840" y2="393" stroke="#1c6222" stroke-width="1.7"/>
<g clip-path="url(#axis)">
<text x="848.6" y="38.5" font-size="10.6" fill="#444448" stroke="#444448" stroke-width="0.15" textLength="16.8" lengthAdjust="spacingAndGlyphs">USD</text>
<g clip-path="url(#c124)"><text x="848.8" y="49.1" font-size="11.4" fill="#b9bbc2" textLength="34.7" lengthAdjust="spacingAndGlyphs">12400.0</text></g>
<text x="848.8" y="82.5" font-size="11.4" fill="#555555" stroke="#555555" stroke-width="0.15" textLength="34.7" lengthAdjust="spacingAndGlyphs">12200.0</text>
<text x="848.8" y="115.9" font-size="11.4" fill="#555555" stroke="#555555" stroke-width="0.15" textLength="34.7" lengthAdjust="spacingAndGlyphs">12000.0</text>
<text x="848.8" y="149.3" font-size="11.4" fill="#555555" stroke="#555555" stroke-width="0.15" textLength="34.7" lengthAdjust="spacingAndGlyphs">11800.0</text>
<text x="848.8" y="182.7" font-size="11.4" fill="#555555" stroke="#555555" stroke-width="0.15" textLength="34.7" lengthAdjust="spacingAndGlyphs">11600.0</text>
<text x="848.8" y="249.4" font-size="11.4" fill="#555555" stroke="#555555" stroke-width="0.15" textLength="34.7" lengthAdjust="spacingAndGlyphs">11200.0</text>
<text x="848.8" y="282.8" font-size="11.4" fill="#555555" stroke="#555555" stroke-width="0.15" textLength="34.7" lengthAdjust="spacingAndGlyphs">11000.0</text>
<text x="848.8" y="316.2" font-size="11.4" fill="#555555" stroke="#555555" stroke-width="0.15" textLength="34.7" lengthAdjust="spacingAndGlyphs">10800.0</text>
<text x="848.8" y="349.6" font-size="11.4" fill="#555555" stroke="#555555" stroke-width="0.15" textLength="34.7" lengthAdjust="spacingAndGlyphs">10600.0</text>
<text x="848.8" y="383.0" font-size="11.4" fill="#555555" stroke="#555555" stroke-width="0.15" textLength="34.7" lengthAdjust="spacingAndGlyphs">10400.0</text>
<path d="M840.3,92.9 H885.6 a2,2 0 0 1 2,2 V106.0 a2,2 0 0 1 -2,2 H840.3 Z" fill="#1c6222"/>
<text x="848.8" y="104.8" font-size="11.1" font-weight="bold" fill="#ffffff" textLength="34.7" lengthAdjust="spacingAndGlyphs">12074.6</text>
<path d="M840.3,120.6 H885.6 a2,2 0 0 1 2,2 V133.7 a2,2 0 0 1 -2,2 H840.3 Z" fill="#1c6222"/>
<text x="848.8" y="132.5" font-size="11.1" font-weight="bold" fill="#ffffff" textLength="34.7" lengthAdjust="spacingAndGlyphs">11906.7</text>
<path d="M840.3,184.6 H885.6 a2,2 0 0 1 2,2 V197.7 a2,2 0 0 1 -2,2 H840.3 Z" fill="#1c6222"/>
<text x="848.8" y="196.5" font-size="11.1" font-weight="bold" fill="#ffffff" textLength="34.7" lengthAdjust="spacingAndGlyphs">11524.5</text>
<path d="M840.3,209.1 H885.6 a2,2 0 0 1 2,2 V222.2 a2,2 0 0 1 -2,2 H840.3 Z" fill="#1c6222"/>
<text x="848.8" y="221.0" font-size="11.1" font-weight="bold" fill="#ffffff" textLength="34.7" lengthAdjust="spacingAndGlyphs">11377.6</text>
<path d="M840.3,298.8 H885.6 a2,2 0 0 1 2,2 V311.9 a2,2 0 0 1 -2,2 H840.3 Z" fill="#1c6222"/>
<text x="848.8" y="310.7" font-size="11.1" font-weight="bold" fill="#ffffff" textLength="34.7" lengthAdjust="spacingAndGlyphs">10840.3</text>
<path d="M840.3,325.4 H885.6 a2,2 0 0 1 2,2 V338.5 a2,2 0 0 1 -2,2 H840.3 Z" fill="#1c6222"/>
<text x="848.8" y="337.3" font-size="11.1" font-weight="bold" fill="#ffffff" textLength="34.7" lengthAdjust="spacingAndGlyphs">10682.6</text>
<path d="M840.3,379.1 H886.6 a1,1 0 0 1 1,1 V393 H840.3 Z" fill="#1c6222"/>
<text x="848.8" y="390.7" font-size="11.1" font-weight="bold" fill="#ffffff" textLength="34.7" lengthAdjust="spacingAndGlyphs">10319.5</text>
<path d="M840.3,148.2 H885.6 a2,2 0 0 1 2,2 V161.3 a2,2 0 0 1 -2,2 H840.3 Z" fill="#26a69a"/>
<text x="848.8" y="160.1" font-size="11.1" font-weight="bold" fill="#ffffff" textLength="34.7" lengthAdjust="spacingAndGlyphs">11746.2</text>
</g>
<path d="M839.2,148.2 H805.4 a2,2 0 0 0 -2,2 V161 a2,2 0 0 0 2,2 H839.2 Z" fill="#26a69a"/>
<text x="807.1" y="159.6" font-size="10.8" fill="#ffffff" textLength="27" lengthAdjust="spacingAndGlyphs">US100</text>
<line x1="839.9" y1="148.2" x2="839.9" y2="163.3" stroke="#cfeae7" stroke-width="1.2"/>
<text x="43.90" y="408.2" font-size="10.6" fill="#505055" stroke="#505055" stroke-width="0.2" textLength="15.6" lengthAdjust="spacingAndGlyphs">Oct</text>
<text x="138.00" y="408.2" font-size="10.6" fill="#505055" stroke="#505055" stroke-width="0.2" textLength="10.0" lengthAdjust="spacingAndGlyphs">10</text>
<text x="226.30" y="408.2" font-size="10.6" fill="#505055" stroke="#505055" stroke-width="0.2" textLength="9.4" lengthAdjust="spacingAndGlyphs">17</text>
<text x="313.55" y="408.2" font-size="10.6" fill="#505055" stroke="#505055" stroke-width="0.2" textLength="10.1" lengthAdjust="spacingAndGlyphs">24</text>
<text x="416.30" y="408.2" font-size="10.6" fill="#505055" stroke="#505055" stroke-width="0.2" textLength="16.6" lengthAdjust="spacingAndGlyphs">Nov</text>
<text x="492.20" y="408.2" font-size="10.6" fill="#505055" stroke="#505055" stroke-width="0.2" textLength="4.6" lengthAdjust="spacingAndGlyphs">7</text>
<text x="578.30" y="408.2" font-size="10.6" fill="#505055" stroke="#505055" stroke-width="0.2" textLength="9.6" lengthAdjust="spacingAndGlyphs">14</text>
<text x="665.70" y="408.2" font-size="10.6" fill="#505055" stroke="#505055" stroke-width="0.2" textLength="9.6" lengthAdjust="spacingAndGlyphs">21</text>
<text x="736.20" y="408.2" font-size="10.6" fill="#505055" stroke="#505055" stroke-width="0.2" textLength="10.0" lengthAdjust="spacingAndGlyphs">25</text>
<text x="803.30" y="408.2" font-size="10.6" fill="#505055" stroke="#505055" stroke-width="0.2" textLength="16.4" lengthAdjust="spacingAndGlyphs">Dec</text>
<g transform="translate(9.3,427.2) scale(0.466)" fill="#1e222d"><path d="M14 22H7V11H0V4h14v18z"/><path d="M28 22h-8l7.5-18h8L28 22z"/><circle cx="20" cy="8" r="4"/></g>
<text x="30.2" y="437.3" font-size="11.6" fill="#30323a" textLength="61.7" lengthAdjust="spacingAndGlyphs">TradingView</text>
</svg>
</body>
</html>
